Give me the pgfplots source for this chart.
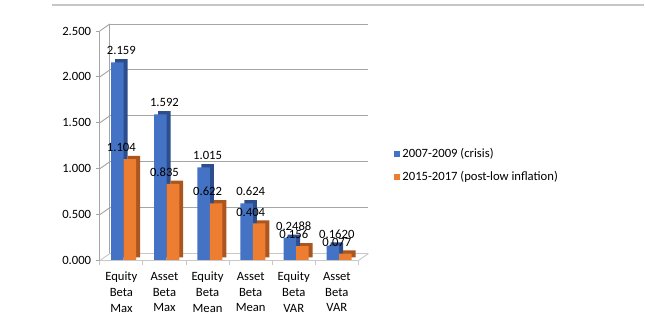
\documentclass[border=0pt]{standalone}
\usepackage{fontspec}
\setmainfont{Carlito}
\usepackage{pgfplots}
\usepackage{pgfplotstable}
\pgfplotsset{compat=1.18}
\definecolor{cblue}{RGB}{68,114,196}
\definecolor{cblued}{RGB}{44,78,140}
\definecolor{corange}{RGB}{237,125,49}
\definecolor{coranged}{RGB}{170,86,30}
\definecolor{wallgray}{RGB}{165,165,165}
\definecolor{floorgray}{RGB}{200,200,200}
\pgfplotstableread{
x blue orange bl ol
0 2.159 1.104 2.159 1.104
1 1.592 0.835 1.592 0.835
2 1.015 0.622 1.015 0.622
3 0.624 0.404 0.624 0.404
4 0.2488 0.156 0.2488 0.156
5 0.1620 0.077 0.1620 0.077
}\datatable
\begin{document}
\begin{tikzpicture}
\path (0pt,0pt) rectangle (483.75pt,244.5pt);
\draw[gray!45, line width=1.6pt] (39pt,240.75pt) -- (483.75pt,240.75pt);
\begin{axis}[
  at={(75pt,48.75pt)}, anchor=south west,
  scale only axis, width=194.25pt, height=172.5pt,
  xmin=-0.5, xmax=5.5, ymin=0, ymax=2.5,
  clip=false,
  axis line style={draw=none},
  ytick={0,0.5,1,1.5,2,2.5},
  ytick pos=left, tick align=outside,
  major tick length=3pt,
  ytick style={wallgray, line width=0.6pt},
  xtick={0,1,2,3,4,5},
  xtick style={draw=none},
  xticklabels={{Equity\\Beta\\Max},{Asset\\Beta\\Max},{Equity\\Beta\\Mean},{Asset\\Beta\\Mean},{Equity\\Beta\\VAR},{Asset\\Beta\\VAR}},
  xticklabel style={align=center, font=\fontsize{9.5}{12}\selectfont, yshift=-2pt},
  yticklabel style={font=\fontsize{9.5}{11}\selectfont},
  /pgf/number format/assume math mode=true,
  /pgf/number format/fixed, /pgf/number format/fixed zerofill,
  /pgf/number format/precision=3,
  legend style={at={(1.12,0.415)}, anchor=west, draw=none, fill=none,
    font=\fontsize{9.5}{11}\selectfont, row sep=5pt,
    legend cell align=left},
]
% back wall grid lines and left wall
\pgfplotsinvokeforeach{0.5,1,1.5,2,2.5}{
  \draw[wallgray, line width=0.7pt] ([xshift=7.5pt,yshift=5.25pt]axis cs:-0.5,#1) -- ([xshift=7.5pt,yshift=5.25pt]axis cs:5.5,#1);
  \draw[wallgray, line width=0.7pt] (axis cs:-0.5,#1) -- ([xshift=7.5pt,yshift=5.25pt]axis cs:-0.5,#1);
}
\draw[wallgray, line width=0.7pt] ([xshift=7.5pt,yshift=5.25pt]axis cs:-0.5,0) -- ([xshift=7.5pt,yshift=5.25pt]axis cs:-0.5,2.5);
\draw[wallgray, line width=0.7pt] (axis cs:-0.5,0) -- (axis cs:-0.5,2.5);
% floor
\draw[floorgray, line width=0.7pt] ([xshift=7.5pt,yshift=5.25pt]axis cs:-0.5,0) -- ([xshift=7.5pt,yshift=5.25pt]axis cs:5.5,0);
\draw[floorgray, line width=0.7pt] (axis cs:5.5,0) -- ([xshift=7.5pt,yshift=5.25pt]axis cs:5.5,0);
\draw[floorgray, line width=0.7pt] (axis cs:-0.5,0) -- ([xshift=7.5pt,yshift=5.25pt]axis cs:-0.5,0);
\pgfplotsinvokeforeach{-0.5,0.5,1.5,2.5,3.5,4.5,5.5}{
  \draw[floorgray, line width=0.7pt] (axis cs:#1,0) -- ([yshift=-3pt]axis cs:#1,0);
}
% blue bars (side + front)
\addplot[ybar, bar width=9.4pt, bar shift=-3pt, fill=cblued, draw=none, xshift=3pt, yshift=2.4pt, forget plot] table[x=x, y=blue] {\datatable};
\addplot[ybar, bar width=9.4pt, bar shift=-3pt, fill=cblue, draw=none, legend image code/.code={\fill[cblue] (0pt,-2.3pt) rectangle (4.6pt,2.3pt);}] table[x=x, y=blue] {\datatable};
\addlegendentry{2007-2009 (crisis)}
% orange bars (side + front)
\addplot[ybar, bar width=9.4pt, bar shift=6.4pt, fill=coranged, draw=none, xshift=3pt, yshift=2.4pt, forget plot] table[x=x, y=orange] {\datatable};
\addplot[ybar, bar width=9.4pt, bar shift=6.4pt, fill=corange, draw=none, legend image code/.code={\fill[corange] (0pt,-2.3pt) rectangle (4.6pt,2.3pt);}] table[x=x, y=orange] {\datatable};
\addlegendentry{2015-2017 (post-low inflation)}
% floor front line
\draw[floorgray, line width=0.7pt] (axis cs:-0.5,0) -- (axis cs:5.5,0);
% value labels
\addplot[ybar, bar width=9.4pt, bar shift=-3pt, draw=none, fill=none, forget plot,
  nodes near coords, point meta=explicit symbolic,
  every node near coord/.style={font=\fontsize{9.5}{11}\selectfont, text=black, yshift=2pt}]
  table[x=x, y=blue, meta=bl] {\datatable};
\addplot[ybar, bar width=9.4pt, bar shift=6.4pt, draw=none, fill=none, forget plot,
  nodes near coords, point meta=explicit symbolic,
  every node near coord/.style={font=\fontsize{9.5}{11}\selectfont, text=black, yshift=2pt}]
  table[x=x, y=orange, meta=ol] {\datatable};
\end{axis}
\end{tikzpicture}
\end{document}
